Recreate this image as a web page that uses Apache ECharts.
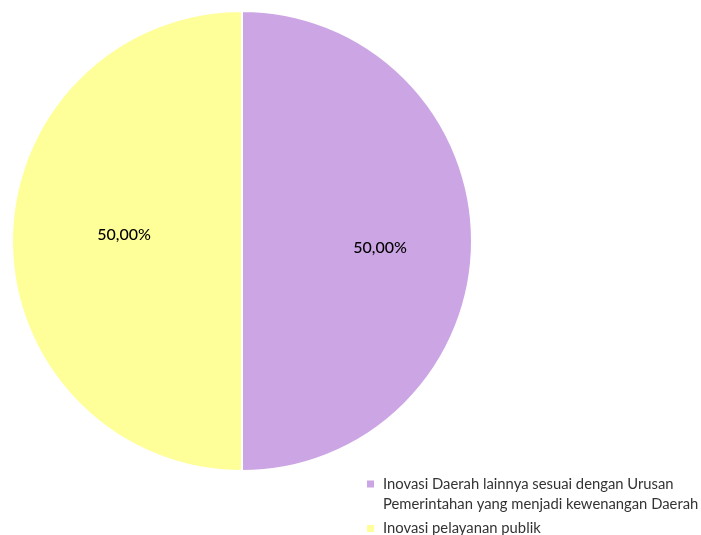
<!DOCTYPE html>
<html>
<head>
<meta charset="utf-8">
<script src="https://cdn.jsdelivr.net/npm/echarts@6/dist/echarts.min.js"></script>
<style>
  html, body { margin: 0; padding: 0; background: #fff; }
  #vis { width: 701px; height: 535px; }
</style>
</head>
<body>
<div id="vis"></div>
<script>
// categories and values
const categories = [
  'Inovasi Daerah lainnya sesuai dengan Urusan Pemerintahan yang menjadi kewenangan Daerah',
  'Inovasi pelayanan publik'
];
const values = [50, 50];
const colors = ['#CCA5E4', '#FFFF99'];
const labelOffsets = [[20, 7], [0, -6]];

// legend markers: square at top for the wrapped entry, centred for the single line one
const legendIcons = [
  'path://M0,0h7v7h-7z M0,27h7',
  'path://M0,10h7v7h-7z M0,0h7 M0,27h7'
];

const chart = echarts.init(document.getElementById('vis'), null, { renderer: 'canvas' });

const seriesData = categories.map((name, i) => ({
  name: name,
  value: values[i],
  itemStyle: { color: colors[i] },
  label: { offset: labelOffsets[i] }
}));

const option = {
  animation: false,
  textStyle: { fontFamily: 'Lato' },
  legend: {
    orient: 'vertical',
    left: 367,
    top: 474,
    height: 80,
    padding: 0,
    itemWidth: 7,
    itemHeight: 27,
    itemGap: 1,
    itemStyle: { borderWidth: 0 },
    textStyle: {
      fontFamily: 'Lato',
      fontSize: 14.8,
      color: '#333',
      width: 322,
      overflow: 'break',
      lineHeight: 20,
      padding: [0, 0, 0, 4]
    },
    data: categories.map((name, i) => ({ name: name, icon: legendIcons[i] }))
  },
  series: [{
    type: 'pie',
    center: [242, 241],
    radius: [0, 230],
    startAngle: 90,
    clockwise: true,
    itemStyle: { borderColor: '#fff', borderWidth: 2 },
    label: {
      show: true,
      position: 'inside',
      formatter: (p) => p.value.toFixed(2).replace('.', ',') + '%',
      color: '#000',
      fontSize: 16,
      fontWeight: 500,
      fontFamily: 'Lato'
    },
    labelLine: { show: false },
    emphasis: { disabled: true },
    data: seriesData
  }]
};

chart.setOption(option);
</script>
</body>
</html>
